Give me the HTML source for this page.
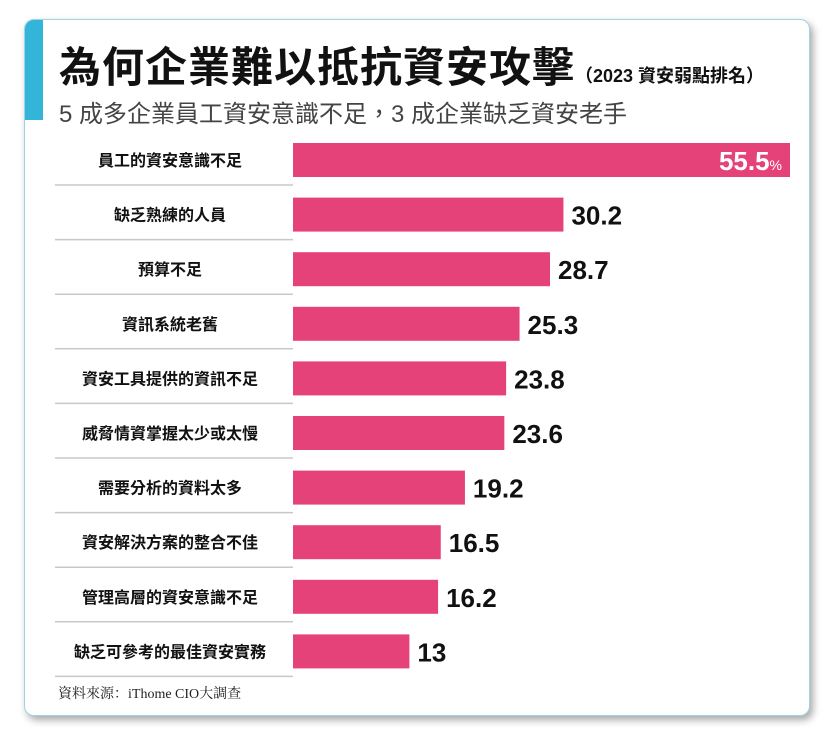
<!DOCTYPE html>
<html><head><meta charset="utf-8">
<style>
body{margin:0;background:#fff;width:835px;height:734px;overflow:hidden;font-family:"Liberation Sans","Noto Sans CJK TC",sans-serif;}
#card{position:absolute;left:24px;top:19px;width:784px;height:695px;border:1px solid #9fd3e6;border-radius:10px;background:#fff;box-shadow:3px 4px 8px rgba(0,0,0,0.35);overflow:hidden;}
#accent{position:absolute;left:0;top:0;width:18px;height:100px;background:#33b5d9;}
#title{position:absolute;left:34px;top:14px;font-size:42px;font-weight:bold;color:#111;white-space:nowrap;letter-spacing:1px;}
#title span{font-size:18px;letter-spacing:0;}
#subtitle{position:absolute;left:34px;top:74px;font-size:24px;color:#444;white-space:nowrap;}
#source{position:absolute;left:58px;top:683px;font-size:14px;color:#222;font-family:"Liberation Serif","Noto Serif CJK SC",serif;}
</style></head><body>
<div id="card">
<div id="accent"></div>
<div id="title">為何企業難以抵抗資安攻擊<span>（2023 資安弱點排名）</span></div>
<div id="subtitle">5 成多企業員工資安意識不足，3 成企業缺乏資安老手</div>
</div>
<svg id="chart" width="835" height="734" style="position:absolute;left:0;top:0"></svg>
<div id="source">資料來源：iThome CIO大調查</div>
<script>
const categories=["員工的資安意識不足","缺乏熟練的人員","預算不足","資訊系統老舊","資安工具提供的資訊不足","威脅情資掌握太少或太慢","需要分析的資料太多","資安解決方案的整合不佳","管理高層的資安意識不足","缺乏可參考的最佳資安實務"];
const values=[55.5,30.2,28.7,25.3,23.8,23.6,19.2,16.5,16.2,13];
const labels=["55.5","30.2","28.7","25.3","23.8","23.6","19.2","16.5","16.2","13"];
const NS="http://www.w3.org/2000/svg";
const svg=document.getElementById("chart");
const x0=293,scale=497/55.5;
function xs(v){return v*scale;}
function yc(i){return 160+i*54.6;}
function mk(t,a){const e=document.createElementNS(NS,t);for(const k in a)e.setAttribute(k,a[k]);svg.appendChild(e);return e;}
categories.forEach((c,i)=>{
  const cy=yc(i);
  const t=mk("text",{x:170,y:cy+6,"text-anchor":"middle","font-size":16,"font-weight":"bold",fill:"#111","font-family":"Liberation Sans, Noto Sans CJK TC, sans-serif"});
  t.textContent=c;
  
  
  const l=mk("line",{x1:55,x2:293,y1:cy+25,y2:cy+25,stroke:"#c8c8c8","stroke-width":1.5});
  
  
  const w=xs(values[i]);
  const r=mk("rect",{x:x0,y:cy-17,width:w,height:34,fill:"#e6427a"});
  
  
  let v;
  if(i===0){
    v=mk("text",{x:x0+w-8,y:cy+10,"text-anchor":"end","font-size":26,"font-weight":"bold",fill:"#fff","font-family":"Liberation Sans, sans-serif"});
    v.innerHTML=labels[i]+'<tspan font-size="14" font-weight="normal">%</tspan>';
  }else{
    v=mk("text",{x:x0+w+8,y:cy+10,"font-size":26,"font-weight":"bold",fill:"#111","font-family":"Liberation Sans, sans-serif"});
    v.textContent=labels[i];
  }
  
  
});
</script>
</body></html>
